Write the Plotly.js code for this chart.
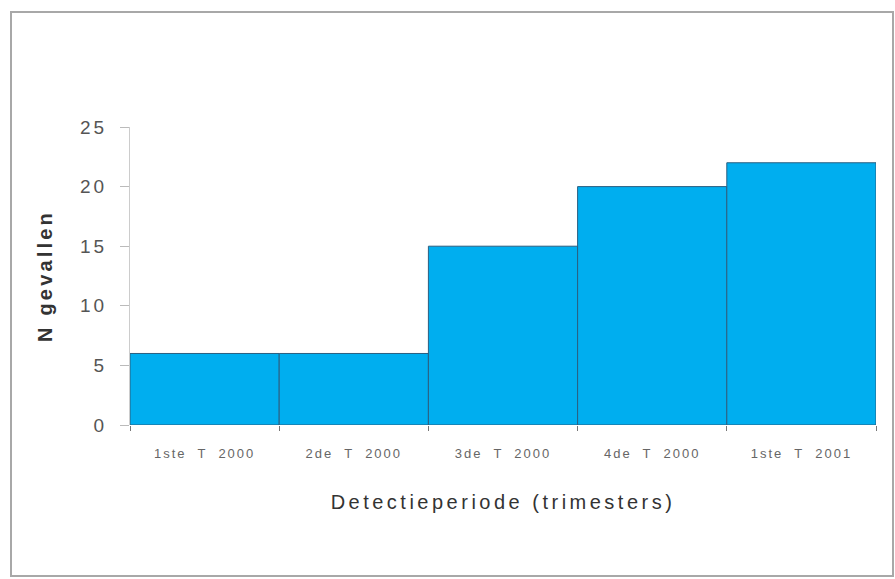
<!DOCTYPE html>
<html>
<head>
<meta charset="utf-8">
<script src="https://cdn.plot.ly/plotly-3.0.1.min.js"></script>
<style>
  html, body { margin: 0; padding: 0; background: #fff; }
  #wrap { position: relative; width: 895px; height: 579px; }
  #chart { position: absolute; left: 0; top: 0; width: 895px; height: 579px; }
  #frame { position: absolute; left: 10px; top: 11px; width: 880px; height: 562px;
           border: 2px solid #a8a8a8; pointer-events: none; }
  .xtick text { letter-spacing: 2px; }
  .ytick text { letter-spacing: 3px; }
  .g-xtitle text { letter-spacing: 3.5px; }
  .g-ytitle text { letter-spacing: 3.2px; }
</style>
</head>
<body>
<div id="wrap">
  <div id="chart"></div>
  <div id="frame"></div>
</div>
<script>
const categories = ["1ste  T  2000", "2de  T  2000", "3de  T  2000", "4de  T  2000", "1ste  T  2001"];
const cases = [6, 6, 15, 20, 22];
const yTicks = [0, 5, 10, 15, 20, 25];

const trace = {
  type: "bar",
  x: categories,
  y: cases,
  marker: { color: "#00AEEF", line: { color: "#2b5f80", width: 1 } },
  hoverinfo: "x+y"
};

const layout = {
  width: 895,
  height: 579,
  margin: { l: 130, r: 19, t: 127, b: 154 },
  paper_bgcolor: "#ffffff",
  plot_bgcolor: "#ffffff",
  bargap: 0,
  showlegend: false,
  font: { family: "Liberation Sans, Arial, sans-serif", color: "#555" },
  xaxis: {
    type: "category",
    tickson: "boundaries",
    ticks: "outside",
    ticklen: 5,
    tickcolor: "#777",
    showline: false,
    showgrid: false,
    zeroline: false,
    ticklabelstandoff: 19,
    tickfont: { size: 13, color: "#666" },
    automargin: false,
    title: { text: "Detectieperiode (trimesters)", font: { size: 20, color: "#333" }, standoff: 34 }
  },
  yaxis: {
    range: [0, 25],
    tickvals: yTicks,
    ticks: "outside",
    ticklen: 9,
    tickcolor: "#bbb",
    showline: true,
    linecolor: "#ccc",
    linewidth: 1,
    showgrid: false,
    zeroline: false,
    ticklabelstandoff: 9,
    tickfont: { size: 19, color: "#555" },
    automargin: false,
    title: { text: "<b>N gevallen</b>", font: { size: 20, color: "#333" }, standoff: 22 }
  }
};

Plotly.newPlot("chart", [trace], layout, { displayModeBar: false, staticPlot: true });
</script>
</body>
</html>
